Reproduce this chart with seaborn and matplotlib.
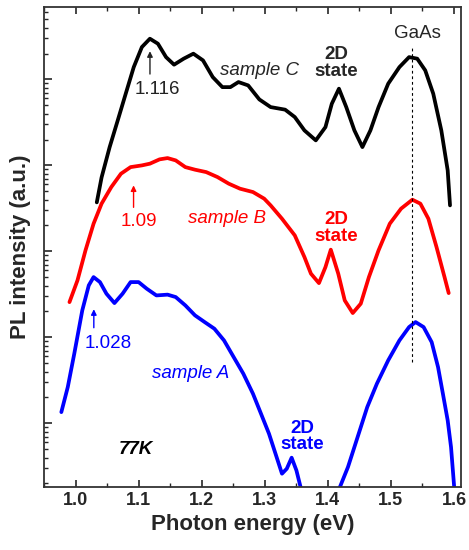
import numpy as np
import pandas as pd
import matplotlib
matplotlib.use("Agg")
import matplotlib.pyplot as plt
from matplotlib.ticker import LogLocator, NullFormatter
import seaborn as sns

# ---- data (log10 of PL intensity, arbitrary units) ----
energy_c = [1.0337, 1.0413, 1.0541, 1.0669, 1.0796, 1.0923, 1.1052, 1.1179, 1.1306, 1.1435,
            1.1562, 1.1715, 1.1868, 1.2021, 1.2175, 1.2328, 1.2455, 1.2583, 1.2737, 1.2914,
            1.3093, 1.3323, 1.3476, 1.3629, 1.3809, 1.3962, 1.4063, 1.4176, 1.4292, 1.4421,
            1.4548, 1.4675, 1.4804, 1.4957, 1.5135, 1.5288, 1.5417, 1.5544, 1.5671, 1.5799,
            1.5900, 1.5937]
logI_c = [2.570, 2.860, 3.213, 3.523, 3.834, 4.143, 4.376, 4.473, 4.415, 4.259,
          4.171, 4.241, 4.299, 4.221, 4.027, 3.910, 3.910, 3.969, 3.930, 3.767,
          3.678, 3.648, 3.562, 3.407, 3.291, 3.445, 3.717, 3.892, 3.678, 3.407,
          3.213, 3.407, 3.678, 3.950, 4.143, 4.259, 4.241, 4.105, 3.834, 3.407,
          2.942, 2.535]

energy_b = [0.9904, 1.0031, 1.0158, 1.0286, 1.0413, 1.0567, 1.0720, 1.0873, 1.1052, 1.1179,
            1.1332, 1.1459, 1.1588, 1.1741, 1.1894, 1.2072, 1.2251, 1.2430, 1.2608, 1.2813,
            1.2991, 1.3093, 1.3273, 1.3476, 1.3629, 1.3732, 1.3859, 1.3962, 1.4047, 1.4165,
            1.4268, 1.4395, 1.4522, 1.4651, 1.4804, 1.4982, 1.5161, 1.5340, 1.5467, 1.5594,
            1.5723, 1.5850, 1.5916]
logI_b = [1.410, 1.663, 2.012, 2.322, 2.555, 2.748, 2.903, 2.980, 3.000, 3.020,
          3.070, 3.085, 3.058, 2.980, 2.950, 2.922, 2.864, 2.787, 2.729, 2.690,
          2.613, 2.535, 2.380, 2.186, 1.934, 1.741, 1.631, 1.817, 2.020, 1.741,
          1.430, 1.283, 1.392, 1.701, 2.012, 2.322, 2.497, 2.601, 2.555, 2.380,
          2.050, 1.701, 1.515]

energy_a = [0.9775, 0.9877, 0.9980, 1.0107, 1.0210, 1.0286, 1.0387, 1.0490, 1.0617, 1.0746,
            1.0873, 1.1000, 1.1129, 1.1282, 1.1459, 1.1588, 1.1741, 1.1894, 1.2047, 1.2201,
            1.2354, 1.2507, 1.2660, 1.2813, 1.2940, 1.3067, 1.3170, 1.3273, 1.3349, 1.3426,
            1.3502, 1.3568, 1.3620, 1.3900, 1.4140, 1.4191, 1.4319, 1.4472, 1.4625, 1.4778,
            1.4957, 1.5135, 1.5288, 1.5391, 1.5518, 1.5646, 1.5747, 1.5824, 1.5900, 1.5953,
            1.6003, 1.6020]
logI_a = [0.131, 0.422, 0.810, 1.314, 1.605, 1.701, 1.643, 1.508, 1.399, 1.508,
          1.643, 1.643, 1.566, 1.488, 1.497, 1.469, 1.372, 1.256, 1.178, 1.101,
          0.965, 0.771, 0.578, 0.345, 0.113, -0.120, -0.352, -0.585, -0.527, -0.399,
          -0.547, -0.741, -0.900, -1.200, -0.950, -0.741, -0.508, -0.159, 0.190, 0.462,
          0.733, 0.965, 1.120, 1.178, 1.120, 0.945, 0.655, 0.345, 0.035, -0.276,
          -0.741, -0.900]

xticks = [1.0, 1.1, 1.2, 1.3, 1.4, 1.5, 1.6]
xtick_labels = ["1.0", "1.1", "1.2", "1.3", "1.4", "1.5", "1.6"]

frames = []
for name, e, l in [("C", energy_c, logI_c), ("B", energy_b, logI_b), ("A", energy_a, logI_a)]:
    frames.append(pd.DataFrame({"energy": e, "intensity": 10 ** np.array(l), "sample": name}))
df = pd.concat(frames, ignore_index=True)

sns.set_style("ticks")
plt.rcParams["font.family"] = ["Liberation Sans", "DejaVu Sans"]

fig = plt.figure(figsize=(4.69, 5.5), dpi=100)
ax = fig.add_axes([0.0938, 0.1145, 0.889, 0.8725])

palette = {"C": "black", "B": "#ff0000", "A": "#0000ff"}
sns.lineplot(data=df, x="energy", y="intensity", hue="sample", palette=palette,
             sort=False, estimator=None, linewidth=2.7, legend=False, ax=ax)
for ln in ax.get_lines():
    ln.set_solid_joinstyle("round")
    ln.set_solid_capstyle("round")

ax.set_yscale("log")
ax.set_xlim(0.969, 1.611)
ax.set_ylim(10 ** -0.74, 10 ** 4.84)
ax.yaxis.set_major_locator(LogLocator(base=10, numticks=20))
ax.yaxis.set_minor_locator(LogLocator(base=10, subs=np.arange(2, 10), numticks=100))
ax.yaxis.set_minor_formatter(NullFormatter())

# GaAs dashed line
ax.plot([1.534, 1.534], [10 ** 0.71, 10 ** 4.37], color="black", lw=0.8, ls=(0, (2.5, 2.5)))

ax.set_xticks(xticks)
ax.set_xticklabels(xtick_labels, fontsize=13, fontweight="bold")
ax.set_xticks(np.arange(0.95, 1.65, 0.05), minor=True)
ax.tick_params(axis="x", which="major", direction="in", length=5, width=1.2, top=True, labeltop=False)
ax.tick_params(axis="x", which="minor", direction="in", length=3, width=1.0, top=True)
ax.tick_params(axis="y", which="major", direction="in", length=6, width=1.2, right=False, labelleft=False)
ax.tick_params(axis="y", which="minor", direction="in", length=3, width=1.0, right=False)
for s in ax.spines.values():
    s.set_linewidth(1.3)
    s.set_color("#333333")

ax.set_xlabel("Photon energy (eV)", fontsize=16, fontweight="bold")
ax.set_ylabel("PL intensity (a.u.)", fontsize=16, fontweight="bold", labelpad=6)

fs = 13.5
# sample C annotations
ax.text(1.542, 10 ** 4.53, "GaAs", ha="center", va="center", fontsize=fs)
ax.text(1.413, 10 ** 4.19, "2D\nstate", ha="center", va="center", fontsize=fs,
        fontweight="bold", linespacing=0.95)
ax.text(1.291, 10 ** 4.10, "sample C", ha="center", va="center", fontsize=fs, style="italic")
ax.text(1.130, 10 ** 3.88, "1.116", ha="center", va="center", fontsize=fs, color="#222222")
ax.annotate("", xy=(1.118, 10 ** 4.36), xytext=(1.118, 10 ** 4.03),
            arrowprops=dict(arrowstyle="-|>", color="#222222", lw=1.0, mutation_scale=8))

# sample B annotations
ax.text(1.100, 10 ** 2.35, "1.09", ha="center", va="center", fontsize=fs, color="#ff0000")
ax.annotate("", xy=(1.092, 10 ** 2.80), xytext=(1.092, 10 ** 2.48),
            arrowprops=dict(arrowstyle="-|>", color="#ff0000", lw=1.0, mutation_scale=8))
ax.text(1.240, 10 ** 2.38, "sample B", ha="center", va="center", fontsize=fs,
        style="italic", color="#ff0000")
ax.text(1.413, 10 ** 2.27, "2D\nstate", ha="center", va="center", fontsize=fs,
        fontweight="bold", color="#ff0000", linespacing=0.95)

# sample A annotations
ax.text(1.052, 10 ** 0.93, "1.028", ha="center", va="center", fontsize=fs, color="#0000ff")
ax.annotate("", xy=(1.029, 10 ** 1.36), xytext=(1.029, 10 ** 1.08),
            arrowprops=dict(arrowstyle="-|>", color="#0000ff", lw=1.0, mutation_scale=8))
ax.text(1.182, 10 ** 0.58, "sample A", ha="center", va="center", fontsize=fs,
        style="italic", color="#0000ff")
ax.text(1.360, 10 ** -0.15, "2D\nstate", ha="center", va="center", fontsize=fs,
        fontweight="bold", color="#0000ff", linespacing=0.95)
ax.text(1.095, 10 ** -0.30, "77K", ha="center", va="center", fontsize=fs,
        style="italic", fontweight="bold", color="black")

fig.savefig("out.png", dpi=100)
